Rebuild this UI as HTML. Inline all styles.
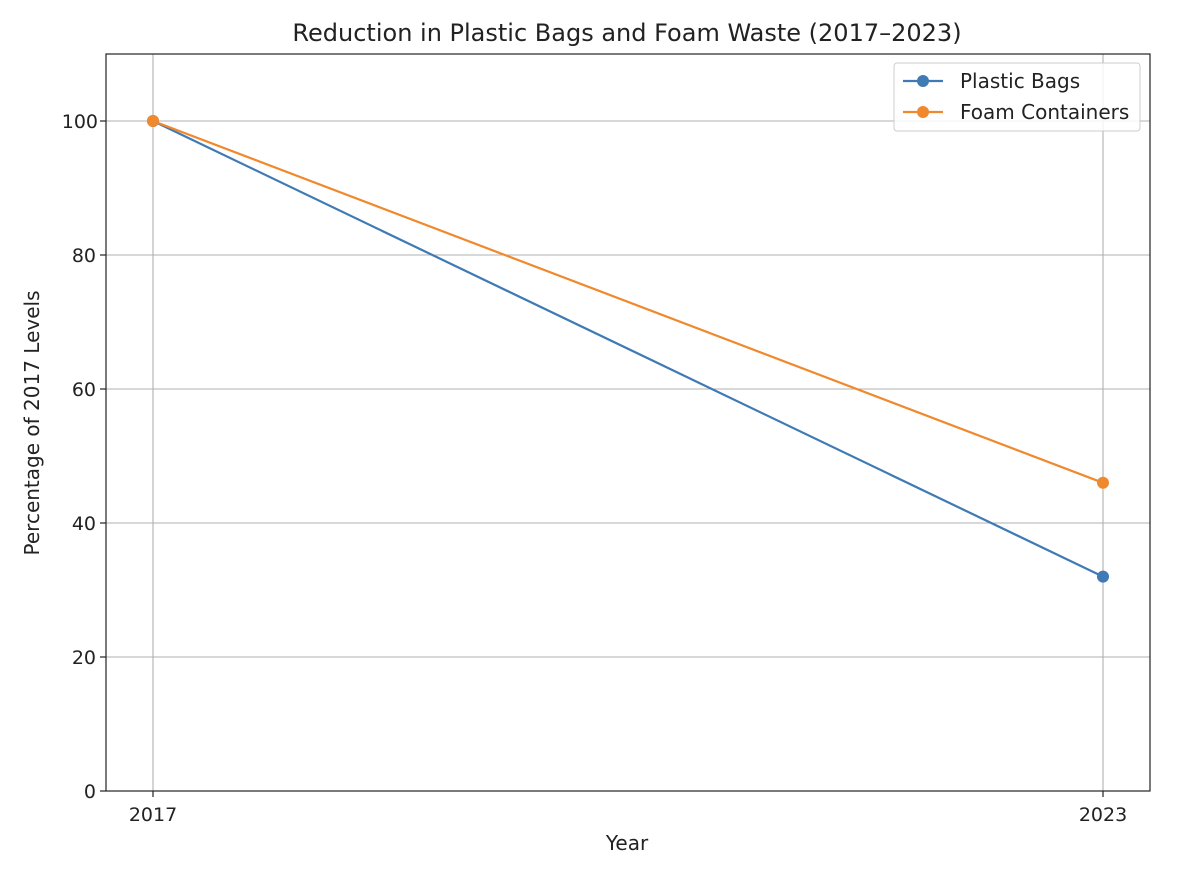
<!DOCTYPE html>
<html><head><meta charset="utf-8"><style>
html,body{margin:0;padding:0;background:#fff;}
svg{display:block;font-family:"DejaVu Sans","Liberation Sans",sans-serif;}
</style></head><body>
<svg width="1178" height="880" viewBox="0 0 1178 880" xmlns="http://www.w3.org/2000/svg">
<rect width="1178" height="880" fill="#fff"/>
<text x="627" y="41" font-size="24" text-anchor="middle" fill="#222">Reduction in Plastic Bags and Foam Waste (2017–2023)</text>
<g stroke="#b0b0b0" stroke-width="1.1">
<line x1="106" x2="1150" y1="657" y2="657"/>
<line x1="106" x2="1150" y1="523" y2="523"/>
<line x1="106" x2="1150" y1="389" y2="389"/>
<line x1="106" x2="1150" y1="255" y2="255"/>
<line x1="106" x2="1150" y1="121" y2="121"/>
<line x1="153" x2="153" y1="54" y2="791"/>
<line x1="1103" x2="1103" y1="54" y2="791"/>
</g>
<rect x="106" y="54" width="1044" height="737" fill="none" stroke="#222" stroke-width="1.2"/>
<g stroke="#222" stroke-width="1.2">
<line x1="100" x2="106" y1="791" y2="791"/><line x1="100" x2="106" y1="657" y2="657"/>
<line x1="100" x2="106" y1="523" y2="523"/><line x1="100" x2="106" y1="389" y2="389"/>
<line x1="100" x2="106" y1="255" y2="255"/><line x1="100" x2="106" y1="121" y2="121"/>
<line x1="153" x2="153" y1="791" y2="797"/><line x1="1103" x2="1103" y1="791" y2="797"/>
</g>
<g font-size="19" fill="#222" text-anchor="end">
<text x="96" y="798">0</text><text x="96" y="664">20</text><text x="96" y="530">40</text>
<text x="96" y="396">60</text><text x="96" y="262">80</text><text x="98" y="128">100</text>
</g>
<g font-size="19" fill="#222" text-anchor="middle">
<text x="153" y="821">2017</text><text x="1103" y="821">2023</text>
</g>
<text x="627" y="850" font-size="20" fill="#222" text-anchor="middle">Year</text>
<text transform="translate(39,423) rotate(-90)" font-size="20" fill="#222" text-anchor="middle">Percentage of 2017 Levels</text>
<line x1="153" y1="121" x2="1103" y2="576.6" stroke="#3f7ab5" stroke-width="2.2"/>
<line x1="153" y1="121" x2="1103" y2="482.8" stroke="#f0892e" stroke-width="2.2"/>
<circle cx="153" cy="121" r="6" fill="#3f7ab5"/>
<circle cx="1103" cy="576.6" r="6" fill="#3f7ab5"/>
<circle cx="153" cy="121" r="6" fill="#f0892e"/>
<circle cx="1103" cy="482.8" r="6" fill="#f0892e"/>
<rect x="894" y="63" width="246" height="68" rx="3" fill="#fff" fill-opacity="0.85" stroke="#ccc"/>
<line x1="903" x2="943" y1="81" y2="81" stroke="#3f7ab5" stroke-width="2.2"/>
<circle cx="923" cy="81" r="6" fill="#3f7ab5"/>
<line x1="903" x2="943" y1="112" y2="112" stroke="#f0892e" stroke-width="2.2"/>
<circle cx="923" cy="112" r="6" fill="#f0892e"/>
<text x="960" y="88" font-size="20" fill="#222">Plastic Bags</text>
<text x="960" y="119" font-size="20" fill="#222">Foam Containers</text>
</svg>
</body></html>
